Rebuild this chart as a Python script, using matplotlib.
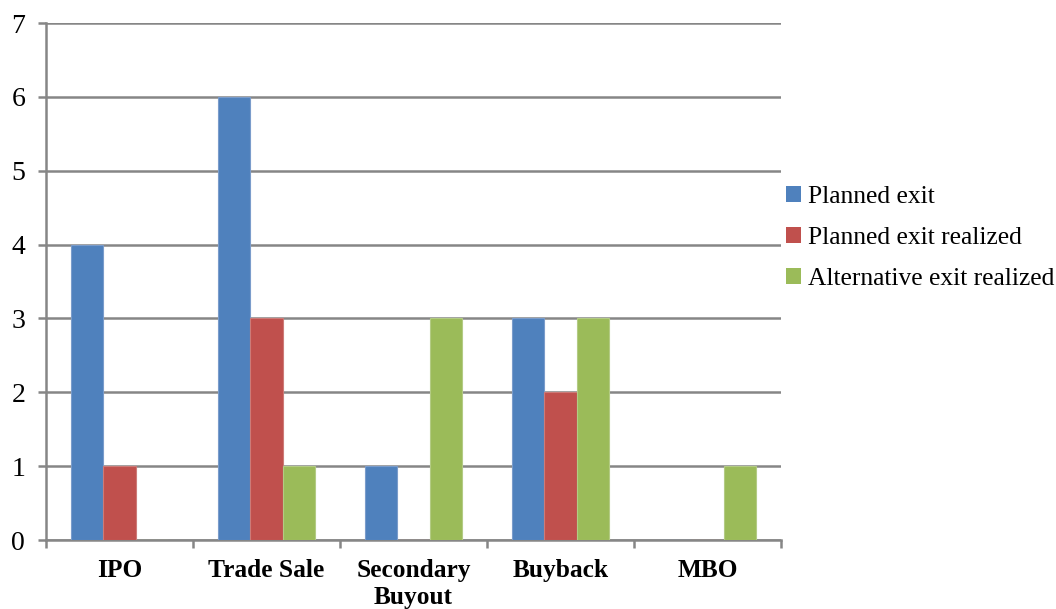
import numpy as np
import matplotlib.pyplot as plt
from matplotlib.patches import Patch

categories = ["IPO", "Trade Sale", "Secondary\nBuyout", "Buyback", "MBO"]
planned_exit = [4, 6, 1, 3, 0]
planned_exit_realized = [1, 3, 0, 2, 0]
alternative_exit_realized = [0, 1, 3, 3, 1]

series_names = ["Planned exit", "Planned exit realized", "Alternative exit realized"]
colors = ["#4F81BD", "#C0504D", "#9BBB59"]
edges = ["#7A9CCB", "#CD7B78", "#B3CB84"]

plt.rcParams['font.family'] = ['Liberation Serif', 'DejaVu Serif']

fig = plt.figure(figsize=(10.56, 6.09), dpi=100)
ax = fig.add_axes([46 / 1056, 1 - 540 / 609, (781 - 46) / 1056, (540 - 23) / 609])

x = np.arange(len(categories))
w = 0.218
grey = "#868686"

for i, vals in enumerate([planned_exit, planned_exit_realized, alternative_exit_realized]):
    ax.bar(x + (i - 1) * w, vals, width=w, color=colors[i],
           edgecolor=edges[i], linewidth=0.8, zorder=3)

ax.set_xlim(-0.5, len(categories) - 0.5)
ax.set_ylim(0, 7)
ax.set_yticks(range(0, 8))
ax.yaxis.grid(True, color=grey, linewidth=1.8, zorder=0)
ax.set_axisbelow(True)

for s in ["top", "right"]:
    ax.spines[s].set_visible(False)
for s in ["left", "bottom"]:
    ax.spines[s].set_color(grey)
    ax.spines[s].set_linewidth(1.8)

ax.tick_params(axis='y', direction='out', length=6, width=1.8, color=grey,
               labelsize=20, pad=9)
ax.set_xticks(x)
ax.set_xticklabels(categories, fontsize=18.3, fontweight='bold', linespacing=1.2)
ax.tick_params(axis='x', which='major', length=0, pad=14)
ax.set_xticks(np.arange(-0.5, len(categories)), minor=True)
ax.tick_params(axis='x', which='minor', direction='out', length=6, width=1.8, color=grey)

handles = [Patch(facecolor=c, edgecolor='none') for c in colors]
fig.legend(handles, series_names, loc='center left', bbox_to_anchor=(786 / 1056, 1 - 238 / 609),
           frameon=False, fontsize=18.4, handlelength=0.6, handleheight=0.6,
           handletextpad=0.25, labelspacing=0.75, borderaxespad=0, borderpad=0)

fig.savefig("out.png", dpi=100)
